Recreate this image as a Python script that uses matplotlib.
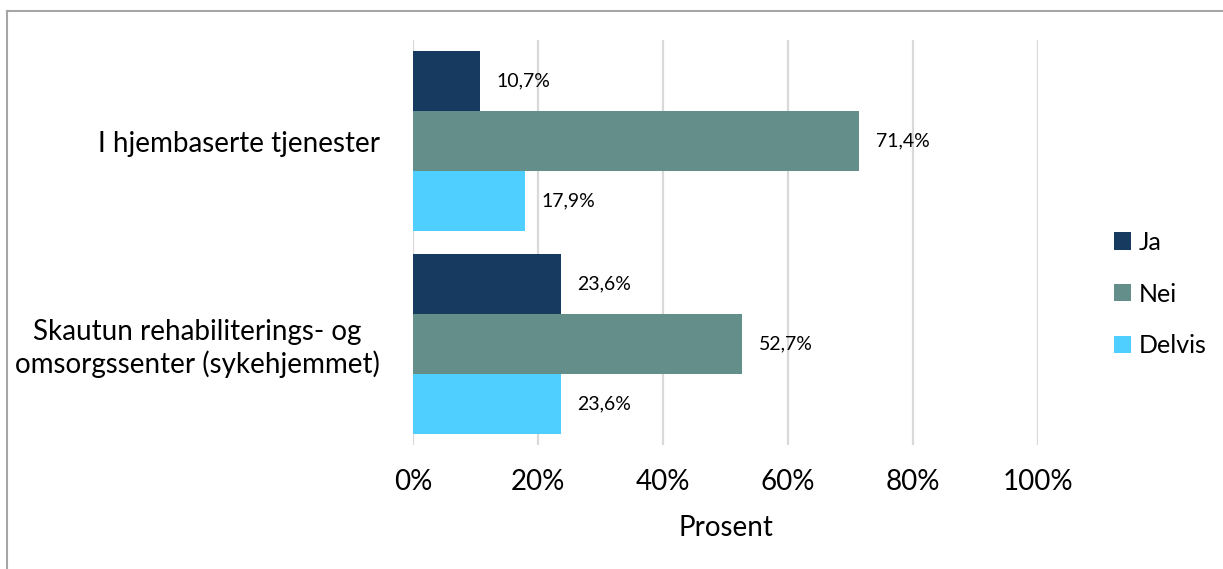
import matplotlib
matplotlib.use("Agg")
import matplotlib.pyplot as plt
from matplotlib.lines import Line2D
from matplotlib.patches import Patch
import numpy as np

plt.rcParams['font.family'] = ['Lato', 'DejaVu Sans']

categories = ["I hjembaserte tjenester",
              "Skautun rehabiliterings- og\nomsorgssenter (sykehjemmet)"]
series = ["Ja", "Nei", "Delvis"]
ja = [10.7, 23.6]
nei = [71.4, 52.7]
delvis = [17.9, 23.6]
colors = ["#173a61", "#648e8a", "#4fcfff"]
x_ticks = [0, 20, 40, 60, 80, 100]
x_tick_labels = ["0%", "20%", "40%", "60%", "80%", "100%"]

W, H = 1223, 569
fig = plt.figure(figsize=(W / 100, H / 100), dpi=100)
ax = fig.add_axes([413 / W, 1 - 445 / H, (1038 - 413) / W, (445 - 40) / H])

# outer chart frame (left and top edges visible)
fig.add_artist(Line2D([6.5 / W, 6.5 / W], [0, 1 - 10.5 / H], transform=fig.transFigure,
                      color="#a6a6a6", lw=1.5))
fig.add_artist(Line2D([6.5 / W, 1], [1 - 10.5 / H, 1 - 10.5 / H], transform=fig.transFigure,
                      color="#a6a6a6", lw=1.5))

band = 1.0
bar_h = 180 / 202.5 * band / 3
y_centers = np.arange(len(categories)) * band
data = [ja, nei, delvis]
for i, (vals, name, c) in enumerate(zip(data, series, colors)):
    ys = y_centers + (i - 1) * bar_h
    ax.barh(ys, vals, height=bar_h, color=c, label=name, zorder=3)
    for y, v in zip(ys, vals):
        ax.annotate(f"{v:.1f}%".replace(".", ","), (v, y), xytext=(12, 0),
                    textcoords="offset points", va="center", ha="left",
                    fontsize=14, color="#000000")

ax.set_xlim(0, 100)
ax.set_ylim(y_centers[-1] + band / 2, y_centers[0] - band / 2)
ax.set_xticks(x_ticks)
ax.set_xticklabels(x_tick_labels, fontsize=20)
ax.set_yticks(y_centers)
ax.set_yticklabels(categories, fontsize=20, multialignment="center")
ax.tick_params(axis="both", length=0)
ax.tick_params(axis="x", pad=17)
ax.tick_params(axis="y", pad=24)
ax.grid(axis="x", color="#d9d9d9", lw=1.6, zorder=0)
for s in ax.spines.values():
    s.set_visible(False)
ax.set_xlabel("Prosent", fontsize=20, labelpad=15)

handles = [Patch(facecolor=c, label=n) for n, c in zip(series, colors)]
fig.legend(handles=handles, loc="center left", bbox_to_anchor=(1101 / W, 1 - 294 / H),
           frameon=False, fontsize=18, handlelength=0.68, handleheight=0.68,
           handletextpad=0.32, labelspacing=1.15, borderpad=0)

fig.savefig("out.png", dpi=100, facecolor="white")
